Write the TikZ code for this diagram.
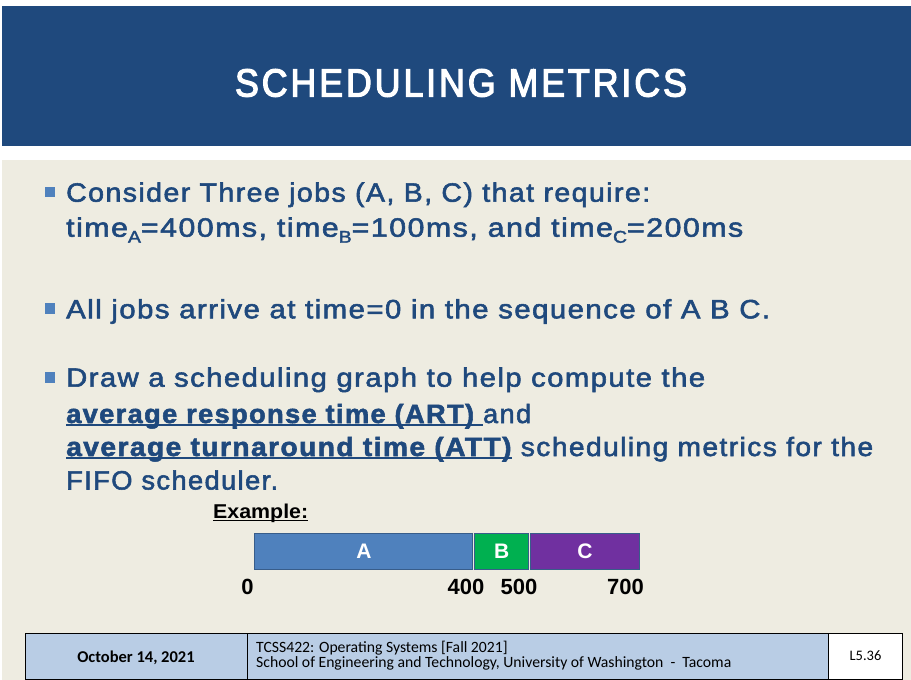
\documentclass[tikz,border=0pt]{standalone}
\usepackage{fontspec}
\setmainfont{Liberation Sans}
\newfontfamily\bodyfont{Liberation Sans}[LetterSpace=5,FakeBold=2]
\newfontfamily\titlefont{Liberation Sans}[LetterSpace=8,FakeBold=3.2]
\newfontfamily\footfont{Carlito}
\definecolor{titleblue}{RGB}{31,73,125}
\definecolor{panel}{RGB}{238,236,225}
\definecolor{bulletc}{RGB}{79,129,189}
\definecolor{txt}{RGB}{31,73,125}
\definecolor{barA}{RGB}{79,129,189}
\definecolor{barB}{RGB}{0,176,80}
\definecolor{barC}{RGB}{112,48,160}
\definecolor{barline}{RGB}{56,93,138}
\definecolor{footblue}{RGB}{185,205,229}
\newcommand\mysub[1]{\raisebox{-6pt}{\fontsize{17}{17}\selectfont #1}}
\newcommand\myul[1]{\sbox0{#1}\rlap{\rule[-2.6pt]{\wd0}{1.3pt}}\usebox0}
\tikzset{
  bodytext/.style={anchor=base west, inner sep=0pt, text=txt, font=\bodyfont\fontsize{26.5}{30}\selectfont},
  bulletbox/.style={fill=bulletc, draw=none, minimum size=10.5pt, inner sep=0pt},
  bar/.style={draw=barline, line width=1.1pt, anchor=north west, inner sep=0pt, minimum height=35.7pt,
    text=white, font=\bfseries\fontsize{21}{21}\selectfont},
  tick/.style={anchor=base, inner sep=0pt, font=\bfseries\fontsize{22}{22}\selectfont},
  cell/.style={draw=black, line width=0.8pt, fill=footblue},
  foot/.style={font=\footfont\fontsize{15.7}{18}\selectfont, inner sep=0pt},
}
\begin{document}
\begin{tikzpicture}[x=1pt,y=-1pt]
\useasboundingbox (0,0) rectangle (911,680);
\fill[white] (0,0) rectangle (911,680);
% title band and panel
\fill[titleblue] (2,6) rectangle (911,145.7);
\fill[panel] (2,160) rectangle (911,680);
\node[font=\titlefont\fontsize{38}{38}\selectfont, text=white, inner sep=0pt] (title) at (461,83)
  {\resizebox{452pt}{27.4pt}{SCHEDULING METRICS}};
% bullets
\node[bulletbox] (b1) at (50,192) {};
\node[bulletbox] (b2) at (50,308.6) {};
\node[bulletbox] (b3) at (50,377.5) {};
% body lines
\node[bodytext] (l1) at (66,201.7) {\resizebox{584pt}{\height}{Consider Three jobs (A, B, C) that require:}};
\node[bodytext] (l2) at (66,236.7) {\resizebox{677pt}{\height}{time\mysub{A}=400ms, time\mysub{B}=100ms, and time\mysub{C}=200ms}};
\node[bodytext] (l3) at (66,318.3) {\resizebox{704pt}{\height}{All jobs arrive at time=0 in the sequence of A B C.}};
\node[bodytext] (l4) at (66,386.7) {\resizebox{639pt}{\height}{Draw a scheduling graph to help compute the}};
\node[bodytext] (l5) at (66,423) {\resizebox{465pt}{\height}{\myul{\bfseries average response time (ART) }and}};
\node[bodytext] (l6) at (66,456) {\resizebox{807pt}{\height}{\myul{\bfseries average turnaround time (ATT)} scheduling metrics for the}};
\node[bodytext] (l7) at (66,489.5) {\resizebox{212pt}{\height}{FIFO scheduler.}};
% example
\node[anchor=base west, inner sep=0pt, font=\bfseries\fontsize{20}{20}\selectfont] (ex) at (213,518.3)
  {\resizebox{95pt}{\height}{\myul{Example:}}};
% bars
\node[bar, fill=barA, minimum width=218pt] (A) at (254.3,533.3) {A};
\node[bar, fill=barB, minimum width=54.3pt] (B) at (474,533.3) {B};
\node[bar, fill=barC, minimum width=109.6pt] (C) at (529.7,533.3) {C};
% ticks
\node[tick] (t0) at (247.5,594.5) {0};
\node[tick] (t400) at (466,594.5) {400};
\node[tick] (t500) at (519,594.5) {500};
\node[tick] (t700) at (625.5,594.5) {700};
% footer
\draw[cell] (25,633) rectangle (247.3,679.3);
\draw[cell] (247.3,633) rectangle (828.3,679.3);
\draw[cell, fill=white] (828.3,633) rectangle (902.7,679.3);
\node[foot, font=\footfont\bfseries\fontsize{16.5}{18}\selectfont, anchor=base] (date) at (136,662) {October 14, 2021};
\node[foot, anchor=base west] (course) at (256,652) {TCSS422: Operating Systems [Fall 2021]};
\node[foot, anchor=base west] (school) at (256,667.5) {School of Engineering and Technology, University of Washington\ \ -\ \ Tacoma};
\node[foot, font=\footfont\fontsize{14.5}{16}\selectfont] (slide) at (865.5,656) {L5.36};
\end{tikzpicture}
\end{document}
